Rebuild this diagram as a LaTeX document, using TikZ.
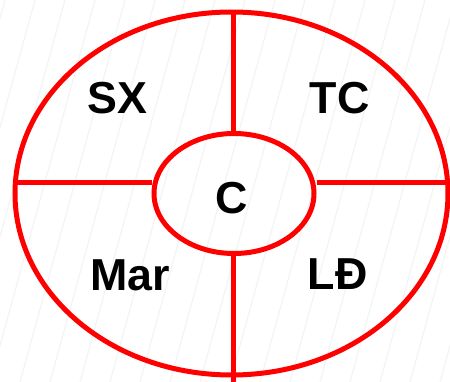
\documentclass[tikz,border=0pt]{standalone}
\usepackage{fontspec}
\setmainfont{Liberation Sans}
\usetikzlibrary{shapes.geometric}

\tikzset{
    ring/.style={draw=red, line width=0.1cm, ellipse, inner sep=0pt},
    spoke/.style={draw=red, line width=0.1cm},
    part/.style={font=\fontsize{25.5}{25.5}\selectfont\bfseries, inner sep=0pt, anchor=base}
}

\begin{document}
\begin{tikzpicture}[x=0.02cm, y=-0.02cm]
    \useasboundingbox (0, 0) rectangle (450, 382);
    \fill[white] (0, 0) rectangle (450, 382);
    % faint stripes
    \begin{scope}
        \clip (0, 0) rectangle (450, 382);
        \foreach \s in {-100, -70, ..., 460} {
            \draw[black!5, line width=0.02cm] (\s, 382) -- (\s + 105, 0);
        }
    \end{scope}

    % Rings
    \node[ring, minimum width=433*0.02cm, minimum height=363*0.02cm] (outer) at (231.5, 193.5) {};
    \node[ring, minimum width=160*0.02cm, minimum height=120*0.02cm] (inner) at (234, 193.5) {};

    % Spokes
    \coordinate (h) at (0, 182);
    \coordinate (v) at (233, 0);
    \draw[spoke] (outer.west |- h) -- (inner.west |- h);
    \draw[spoke] (inner.east |- h) -- (450, 182);
    \draw[spoke] (outer.north -| v) -- (inner.north -| v);
    \draw[spoke] (inner.south -| v) -- (233, 382);

    % Labels
    \node[part] (sx) at (117.5, 113) {SX};
    \node[part] (tc) at (339.5, 113) {TC};
    \node[part] (mar) at (130, 290.5) {Mar};
    \node[part] (ld) at (337.5, 289.5) {LĐ};
    \node[part] (c) at (232, 213) {C};
\end{tikzpicture}
\end{document}
